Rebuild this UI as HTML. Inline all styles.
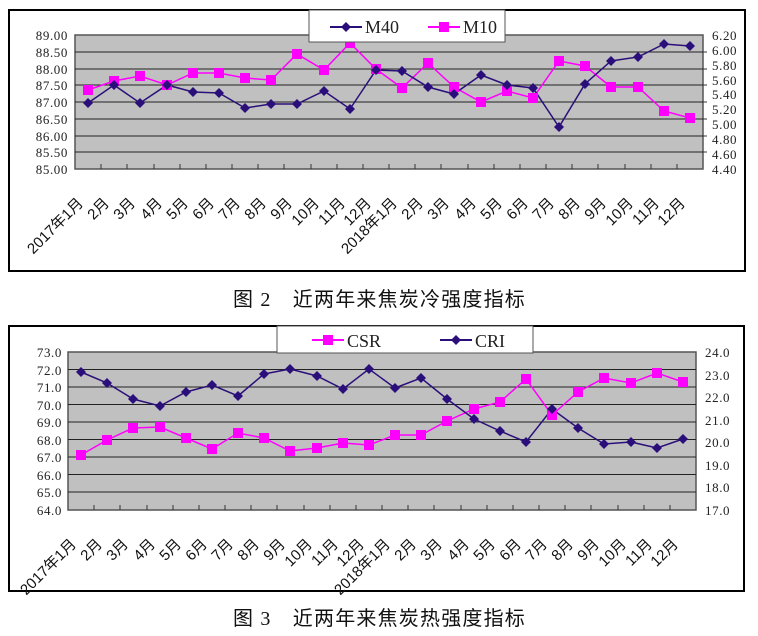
<!DOCTYPE html>
<html><head><meta charset="utf-8"><style>
body{margin:0;background:#fff;width:758px;height:636px;overflow:hidden}
svg{display:block}
.ax{font-family:"Liberation Serif","Noto Serif CJK SC",serif;font-size:13px;fill:#222;letter-spacing:0.6px}
.xl{font-family:"Liberation Sans","Noto Sans CJK SC",sans-serif;font-size:15px;fill:#111}
.cap{font-family:"Liberation Serif","Noto Sans CJK SC",serif;font-size:20px;fill:#111;letter-spacing:1.2px}
.lg{font-family:"Liberation Serif",serif;font-size:18px;fill:#222}
</style></head><body>
<svg width="758" height="636" viewBox="0 0 758 636" xmlns="http://www.w3.org/2000/svg">
<defs>
<path id="d" d="M0,-5 L5,0 L0,5 L-5,0 Z" fill="#2a0f7a"/>
<rect id="s" x="-5" y="-5" width="10" height="10" fill="#ff00ff"/>
</defs>
<!-- Chart 1 -->
<rect x="9" y="10" width="736" height="261" fill="#fff" stroke="#000" stroke-width="2"/>
<rect x="75" y="35" width="628" height="134" fill="#c0c0c0" stroke="#555" stroke-width="1.5"/>
<g stroke="#222" stroke-width="1">
<line x1="75" y1="52" x2="703" y2="52"/><line x1="75" y1="69" x2="703" y2="69"/><line x1="75" y1="85" x2="703" y2="85"/><line x1="75" y1="102" x2="703" y2="102"/><line x1="75" y1="119" x2="703" y2="119"/><line x1="75" y1="136" x2="703" y2="136"/><line x1="75" y1="152" x2="703" y2="152"/>
</g>
<g stroke="#333" stroke-width="1">
<line x1="101" y1="164" x2="101" y2="169"/><line x1="127" y1="164" x2="127" y2="169"/><line x1="154" y1="164" x2="154" y2="169"/><line x1="180" y1="164" x2="180" y2="169"/><line x1="206" y1="164" x2="206" y2="169"/><line x1="232" y1="164" x2="232" y2="169"/><line x1="258" y1="164" x2="258" y2="169"/><line x1="284" y1="164" x2="284" y2="169"/><line x1="311" y1="164" x2="311" y2="169"/><line x1="337" y1="164" x2="337" y2="169"/><line x1="363" y1="164" x2="363" y2="169"/><line x1="389" y1="164" x2="389" y2="169"/><line x1="415" y1="164" x2="415" y2="169"/><line x1="441" y1="164" x2="441" y2="169"/><line x1="468" y1="164" x2="468" y2="169"/><line x1="494" y1="164" x2="494" y2="169"/><line x1="520" y1="164" x2="520" y2="169"/><line x1="546" y1="164" x2="546" y2="169"/><line x1="572" y1="164" x2="572" y2="169"/><line x1="598" y1="164" x2="598" y2="169"/><line x1="625" y1="164" x2="625" y2="169"/><line x1="651" y1="164" x2="651" y2="169"/><line x1="677" y1="164" x2="677" y2="169"/>
<line x1="703" y1="52" x2="707" y2="52"/><line x1="703" y1="69" x2="707" y2="69"/><line x1="703" y1="85" x2="707" y2="85"/><line x1="703" y1="102" x2="707" y2="102"/><line x1="703" y1="119" x2="707" y2="119"/><line x1="703" y1="136" x2="707" y2="136"/><line x1="703" y1="152" x2="707" y2="152"/>
</g>
<g class="ax" text-anchor="end">
<text x="68" y="40">89.00</text><text x="68" y="57">88.50</text><text x="68" y="74">88.00</text><text x="68" y="90">87.50</text><text x="68" y="107">87.00</text><text x="68" y="124">86.50</text><text x="68" y="141">86.00</text><text x="68" y="157">85.50</text><text x="68" y="174">85.00</text>
</g>
<g class="ax">
<text x="712" y="40">6.20</text><text x="712" y="55">6.00</text><text x="712" y="70">5.80</text><text x="712" y="85">5.60</text><text x="712" y="99">5.40</text><text x="712" y="114">5.20</text><text x="712" y="129">5.00</text><text x="712" y="144">4.80</text><text x="712" y="159">4.60</text><text x="712" y="174">4.40</text>
</g>
<polyline fill="none" stroke="#ff00ff" stroke-width="1.5" points="88,90 114,81 140,76 167,85 193,73 219,73 245,78 271,80 297,54 324,70 350,43 376,69 402,88 428,63 454,87 481,102 507,91 533,98 559,61 585,66 611,87 638,87 664,111 690,118"/>
<polyline fill="none" stroke="#2a0f7a" stroke-width="1.5" points="88,103 114,85 140,103 167,85 193,92 219,93 245,108 271,104 297,104 324,91 350,109 376,70 402,71 428,87 454,94 481,75 507,85 533,88 559,127 585,84 611,61 638,57 664,44 690,46"/>
<g>
<use href="#s" x="88" y="90"/><use href="#s" x="114" y="81"/><use href="#s" x="140" y="76"/><use href="#s" x="167" y="85"/><use href="#s" x="193" y="73"/><use href="#s" x="219" y="73"/><use href="#s" x="245" y="78"/><use href="#s" x="271" y="80"/><use href="#s" x="297" y="54"/><use href="#s" x="324" y="70"/><use href="#s" x="350" y="43"/><use href="#s" x="376" y="69"/><use href="#s" x="402" y="88"/><use href="#s" x="428" y="63"/><use href="#s" x="454" y="87"/><use href="#s" x="481" y="102"/><use href="#s" x="507" y="91"/><use href="#s" x="533" y="98"/><use href="#s" x="559" y="61"/><use href="#s" x="585" y="66"/><use href="#s" x="611" y="87"/><use href="#s" x="638" y="87"/><use href="#s" x="664" y="111"/><use href="#s" x="690" y="118"/>
<use href="#d" x="88" y="103"/><use href="#d" x="114" y="85"/><use href="#d" x="140" y="103"/><use href="#d" x="167" y="85"/><use href="#d" x="193" y="92"/><use href="#d" x="219" y="93"/><use href="#d" x="245" y="108"/><use href="#d" x="271" y="104"/><use href="#d" x="297" y="104"/><use href="#d" x="324" y="91"/><use href="#d" x="350" y="109"/><use href="#d" x="376" y="70"/><use href="#d" x="402" y="71"/><use href="#d" x="428" y="87"/><use href="#d" x="454" y="94"/><use href="#d" x="481" y="75"/><use href="#d" x="507" y="85"/><use href="#d" x="533" y="88"/><use href="#d" x="559" y="127"/><use href="#d" x="585" y="84"/><use href="#d" x="611" y="61"/><use href="#d" x="638" y="57"/><use href="#d" x="664" y="44"/><use href="#d" x="690" y="46"/>
</g>
<rect x="309" y="10" width="196" height="32" fill="#fff" stroke="#555"/>
<line x1="330" y1="27" x2="362" y2="27" stroke="#2a0f7a" stroke-width="2"/><use href="#d" x="346" y="27"/>
<text class="lg" x="365" y="33">M40</text>
<line x1="428" y1="27" x2="460" y2="27" stroke="#ff00ff" stroke-width="2"/><use href="#s" x="444" y="27"/>
<text class="lg" x="463" y="33">M10</text>
<g class="xl" text-anchor="end">
<text transform="translate(84,204) rotate(-45)">2017年1月</text><text transform="translate(110,204) rotate(-45)">2月</text><text transform="translate(136,204) rotate(-45)">3月</text><text transform="translate(163,204) rotate(-45)">4月</text><text transform="translate(189,204) rotate(-45)">5月</text><text transform="translate(215,204) rotate(-45)">6月</text><text transform="translate(241,204) rotate(-45)">7月</text><text transform="translate(267,204) rotate(-45)">8月</text><text transform="translate(293,204) rotate(-45)">9月</text><text transform="translate(320,204) rotate(-45)">10月</text><text transform="translate(346,204) rotate(-45)">11月</text><text transform="translate(372,204) rotate(-45)">12月</text><text transform="translate(398,204) rotate(-45)">2018年1月</text><text transform="translate(424,204) rotate(-45)">2月</text><text transform="translate(450,204) rotate(-45)">3月</text><text transform="translate(477,204) rotate(-45)">4月</text><text transform="translate(503,204) rotate(-45)">5月</text><text transform="translate(529,204) rotate(-45)">6月</text><text transform="translate(555,204) rotate(-45)">7月</text><text transform="translate(581,204) rotate(-45)">8月</text><text transform="translate(607,204) rotate(-45)">9月</text><text transform="translate(634,204) rotate(-45)">10月</text><text transform="translate(660,204) rotate(-45)">11月</text><text transform="translate(686,204) rotate(-45)">12月</text>
</g>
<text class="cap" x="233" y="306">图 2　近两年来焦炭冷强度指标</text>

<!-- Chart 2 -->
<rect x="9" y="326" width="735" height="265" fill="#fff" stroke="#000" stroke-width="2"/>
<rect x="68" y="352" width="628" height="158" fill="#c0c0c0" stroke="#555" stroke-width="1.5"/>
<g stroke="#222" stroke-width="1">
<line x1="68" y1="369.5" x2="696" y2="369.5"/><line x1="68" y1="387" x2="696" y2="387"/><line x1="68" y1="404.5" x2="696" y2="404.5"/><line x1="68" y1="422" x2="696" y2="422"/><line x1="68" y1="439.5" x2="696" y2="439.5"/><line x1="68" y1="457" x2="696" y2="457"/><line x1="68" y1="474.5" x2="696" y2="474.5"/><line x1="68" y1="492" x2="696" y2="492"/>
</g>
<g stroke="#333" stroke-width="1">
<line x1="94" y1="505" x2="94" y2="510"/><line x1="120" y1="505" x2="120" y2="510"/><line x1="147" y1="505" x2="147" y2="510"/><line x1="173" y1="505" x2="173" y2="510"/><line x1="199" y1="505" x2="199" y2="510"/><line x1="225" y1="505" x2="225" y2="510"/><line x1="251" y1="505" x2="251" y2="510"/><line x1="277" y1="505" x2="277" y2="510"/><line x1="304" y1="505" x2="304" y2="510"/><line x1="330" y1="505" x2="330" y2="510"/><line x1="356" y1="505" x2="356" y2="510"/><line x1="382" y1="505" x2="382" y2="510"/><line x1="408" y1="505" x2="408" y2="510"/><line x1="434" y1="505" x2="434" y2="510"/><line x1="461" y1="505" x2="461" y2="510"/><line x1="487" y1="505" x2="487" y2="510"/><line x1="513" y1="505" x2="513" y2="510"/><line x1="539" y1="505" x2="539" y2="510"/><line x1="565" y1="505" x2="565" y2="510"/><line x1="591" y1="505" x2="591" y2="510"/><line x1="618" y1="505" x2="618" y2="510"/><line x1="644" y1="505" x2="644" y2="510"/><line x1="670" y1="505" x2="670" y2="510"/>
</g>
<g class="ax" text-anchor="end">
<text x="62" y="357">73.0</text><text x="62" y="375">72.0</text><text x="62" y="392">71.0</text><text x="62" y="410">70.0</text><text x="62" y="427">69.0</text><text x="62" y="445">68.0</text><text x="62" y="462">67.0</text><text x="62" y="480">66.0</text><text x="62" y="497">65.0</text><text x="62" y="515">64.0</text>
</g>
<g class="ax">
<text x="705" y="357">24.0</text><text x="705" y="380">23.0</text><text x="705" y="402">22.0</text><text x="705" y="425">21.0</text><text x="705" y="447">20.0</text><text x="705" y="470">19.0</text><text x="705" y="492">18.0</text><text x="705" y="515">17.0</text>
</g>
<polyline fill="none" stroke="#ff00ff" stroke-width="1.5" points="81,455 107,440 133,428 160,427 186,438 212,449 238,433 264,438 290,451 317,448 343,443 369,445 395,435 421,435 447,421 474,409 500,402 526,379 552,415 578,392 604,378 631,383 657,373 683,382"/>
<polyline fill="none" stroke="#2a0f7a" stroke-width="1.5" points="81,372 107,383 133,399 160,406 186,392 212,385 238,396 264,374 290,369 317,376 343,389 369,369 395,388 421,378 447,399 474,419 500,431 526,442 552,409 578,428 604,444 631,442 657,448 683,439"/>
<g>
<use href="#s" x="81" y="455"/><use href="#s" x="107" y="440"/><use href="#s" x="133" y="428"/><use href="#s" x="160" y="427"/><use href="#s" x="186" y="438"/><use href="#s" x="212" y="449"/><use href="#s" x="238" y="433"/><use href="#s" x="264" y="438"/><use href="#s" x="290" y="451"/><use href="#s" x="317" y="448"/><use href="#s" x="343" y="443"/><use href="#s" x="369" y="445"/><use href="#s" x="395" y="435"/><use href="#s" x="421" y="435"/><use href="#s" x="447" y="421"/><use href="#s" x="474" y="409"/><use href="#s" x="500" y="402"/><use href="#s" x="526" y="379"/><use href="#s" x="552" y="415"/><use href="#s" x="578" y="392"/><use href="#s" x="604" y="378"/><use href="#s" x="631" y="383"/><use href="#s" x="657" y="373"/><use href="#s" x="683" y="382"/>
<use href="#d" x="81" y="372"/><use href="#d" x="107" y="383"/><use href="#d" x="133" y="399"/><use href="#d" x="160" y="406"/><use href="#d" x="186" y="392"/><use href="#d" x="212" y="385"/><use href="#d" x="238" y="396"/><use href="#d" x="264" y="374"/><use href="#d" x="290" y="369"/><use href="#d" x="317" y="376"/><use href="#d" x="343" y="389"/><use href="#d" x="369" y="369"/><use href="#d" x="395" y="388"/><use href="#d" x="421" y="378"/><use href="#d" x="447" y="399"/><use href="#d" x="474" y="419"/><use href="#d" x="500" y="431"/><use href="#d" x="526" y="442"/><use href="#d" x="552" y="409"/><use href="#d" x="578" y="428"/><use href="#d" x="604" y="444"/><use href="#d" x="631" y="442"/><use href="#d" x="657" y="448"/><use href="#d" x="683" y="439"/>
</g>
<rect x="277" y="326" width="256" height="27" fill="#fff" stroke="#555"/>
<line x1="312" y1="340" x2="344" y2="340" stroke="#ff00ff" stroke-width="2"/><use href="#s" x="328" y="340"/>
<text class="lg" x="347" y="347">CSR</text>
<line x1="440" y1="340" x2="472" y2="340" stroke="#2a0f7a" stroke-width="2"/><use href="#d" x="456" y="340"/>
<text class="lg" x="475" y="347">CRI</text>
<g class="xl" text-anchor="end">
<text transform="translate(77,545) rotate(-45)">2017年1月</text><text transform="translate(103,545) rotate(-45)">2月</text><text transform="translate(129,545) rotate(-45)">3月</text><text transform="translate(156,545) rotate(-45)">4月</text><text transform="translate(182,545) rotate(-45)">5月</text><text transform="translate(208,545) rotate(-45)">6月</text><text transform="translate(234,545) rotate(-45)">7月</text><text transform="translate(260,545) rotate(-45)">8月</text><text transform="translate(286,545) rotate(-45)">9月</text><text transform="translate(313,545) rotate(-45)">10月</text><text transform="translate(339,545) rotate(-45)">11月</text><text transform="translate(365,545) rotate(-45)">12月</text><text transform="translate(391,545) rotate(-45)">2018年1月</text><text transform="translate(417,545) rotate(-45)">2月</text><text transform="translate(443,545) rotate(-45)">3月</text><text transform="translate(470,545) rotate(-45)">4月</text><text transform="translate(496,545) rotate(-45)">5月</text><text transform="translate(522,545) rotate(-45)">6月</text><text transform="translate(548,545) rotate(-45)">7月</text><text transform="translate(574,545) rotate(-45)">8月</text><text transform="translate(600,545) rotate(-45)">9月</text><text transform="translate(627,545) rotate(-45)">10月</text><text transform="translate(653,545) rotate(-45)">11月</text><text transform="translate(679,545) rotate(-45)">12月</text>
</g>
<text class="cap" x="233" y="625">图 3　近两年来焦炭热强度指标</text>
</svg>
</body></html>
